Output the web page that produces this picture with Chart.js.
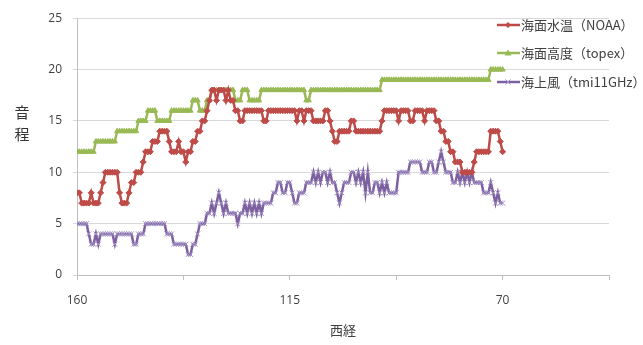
<!DOCTYPE html>
<html lang="ja">
<head>
<meta charset="utf-8">
<title>海面水温・海面高度・海上風</title>
<script src="https://cdn.jsdelivr.net/npm/chart.js@4.4.1/dist/chart.umd.min.js"></script>
<style>
  html, body { margin: 0; padding: 0; background: #fff; }
  #wrap { position: relative; width: 643px; height: 345px; }
  #yTitle {
    position: absolute; left: 12px; top: 101px; width: 20px;
    font: 15px "Noto Sans CJK JP"; line-height: 22px; color: #333; text-align: center;
  }
  #legend { position: absolute; left: 497px; top: 15px; font: 13px "Noto Sans CJK JP"; color: #404040; }
  #legend .item { position: absolute; left: 0; white-space: nowrap; height: 20px; line-height: 20px; }
  #legend svg { position: absolute; left: 0; top: 4px; }
  #legend span { position: absolute; left: 24px; top: 0; }
</style>
</head>
<body>
<div id="wrap">
  <canvas id="chart" width="643" height="345"></canvas>
  <div id="yTitle">音<br>程</div>
  <div id="legend"></div>
</div>
<script>
// longitude (west), 0.5 degree steps from 160 down to 70
const lonStart = 160;
const lonStep = 0.5;
const lonLabels = [160, 115, 70];
const lonTickMarks = [160, 137.5, 115, 92.5, 70, 47.5];

// 海面水温 (NOAA)
const sst = [
  8, 8, 7, 7, 7, 7, 8, 7, 7, 7,
  8, 9, 10, 10, 10, 10, 10, 10, 8, 7,
  7, 7, 8, 9, 9, 10, 10, 10, 11, 12,
  12, 12, 13, 13, 13, 14, 14, 14, 14, 13,
  12, 12, 12, 13, 12, 12, 11, 12, 12, 13,
  13, 14, 14, 15, 15, 16, 17, 18, 18, 17,
  18, 18, 18, 17, 18, 17, 17, 16, 16, 15,
  15, 16, 16, 16, 16, 16, 16, 16, 16, 15,
  15, 16, 16, 16, 16, 16, 16, 16, 16, 16,
  16, 16, 16, 15, 16, 16, 15, 16, 16, 16,
  15, 15, 15, 15, 15, 16, 16, 15, 14, 13,
  13, 14, 14, 14, 14, 14, 15, 15, 14, 14,
  14, 14, 14, 14, 14, 14, 14, 14, 14, 15,
  16, 16, 16, 16, 16, 16, 15, 16, 16, 16,
  16, 15, 15, 16, 16, 16, 16, 15, 16, 16,
  16, 16, 15, 15, 14, 14, 13, 13, 12, 12,
  11, 11, 11, 10, 10, 10, 10, 10, 11, 12,
  12, 12, 12, 12, 12, 14, 14, 14, 14, 13,
  12
];

// 海面高度 (topex)
const ssh = [
  12, 12, 12, 12, 12, 12, 12, 12, 13, 13,
  13, 13, 13, 13, 13, 13, 13, 14, 14, 14,
  14, 14, 14, 14, 14, 14, 15, 15, 15, 15,
  16, 16, 16, 16, 15, 15, 15, 15, 15, 15,
  16, 16, 16, 16, 16, 16, 16, 16, 16, 17,
  17, 17, 16, 16, 16, 17, 17, 18, 18, 18,
  18, 18, 18, 18, 18, 18, 18, 17, 17, 17,
  18, 18, 18, 17, 17, 17, 17, 17, 18, 18,
  18, 18, 18, 18, 18, 18, 18, 18, 18, 18,
  18, 18, 18, 18, 18, 18, 18, 17, 17, 18,
  18, 18, 18, 18, 18, 18, 18, 18, 18, 18,
  18, 18, 18, 18, 18, 18, 18, 18, 18, 18,
  18, 18, 18, 18, 18, 18, 18, 18, 18, 19,
  19, 19, 19, 19, 19, 19, 19, 19, 19, 19,
  19, 19, 19, 19, 19, 19, 19, 19, 19, 19,
  19, 19, 19, 19, 19, 19, 19, 19, 19, 19,
  19, 19, 19, 19, 19, 19, 19, 19, 19, 19,
  19, 19, 19, 19, 19, 20, 20, 20, 20, 20,
  20
];

// 海上風 (tmi11GHz)
const wind = [
  5, 5, 5, 5, 5, 4, 3, 3, 4, 3,
  4, 4, 4, 4, 4, 4, 3, 4, 4, 4,
  4, 4, 4, 4, 3, 3, 4, 4, 4, 5,
  5, 5, 5, 5, 5, 5, 5, 5, 4, 4,
  4, 3, 3, 3, 3, 3, 3, 2, 2, 3,
  3, 4, 5, 5, 5, 6, 6, 7, 6, 7,
  8, 7, 6, 7, 6, 6, 6, 6, 5, 6,
  6, 7, 6, 7, 6, 7, 6, 7, 6, 7,
  7, 7, 7, 8, 8, 9, 9, 8, 8, 9,
  9, 8, 7, 7, 8, 8, 8, 9, 9, 9,
  10, 9, 10, 9, 10, 10, 9, 10, 9, 9,
  8, 7, 8, 9, 9, 9, 10, 10, 9, 10,
  9, 10, 8, 10, 8, 8, 9, 9, 8, 9,
  8, 9, 8, 8, 8, 8, 10, 10, 10, 10,
  10, 11, 11, 11, 11, 11, 10, 10, 10, 11,
  11, 10, 10, 11, 12, 11, 10, 10, 10, 9,
  9, 10, 9, 10, 9, 10, 9, 10, 9, 9,
  9, 9, 8, 8, 8, 9, 8, 7, 8, 7,
  7
];

const lons = sst.map((_, i) => lonStart - i * lonStep);

const tickFont = { family: '"Open Sans", "Noto Sans CJK JP"', size: 12 };
const textColor = '#404040';

const series = [
  { label: '海面水温（NOAA）', data: sst, color: '#BE4B48', pointColor: '#BE4B48', style: 'rectRot', radius: 3 },
  { label: '海面高度（topex）', data: ssh, color: '#98B954', pointColor: '#98B954', style: 'triangle', radius: 3 },
  { label: '海上風（tmi11GHz）', data: wind, color: '#7D60A0', pointColor: '#A291C4', style: 'crossRot', radius: 3.5 }
];

new Chart(document.getElementById('chart'), {
  type: 'line',
  data: {
    labels: lons,
    datasets: series.map(s => ({
      label: s.label,
      data: s.data,
      borderColor: s.color,
      backgroundColor: s.pointColor,
      borderWidth: 2.5,
      pointStyle: s.style,
      pointRadius: s.radius,
      pointBorderColor: s.pointColor,
      pointBackgroundColor: s.pointColor,
      pointBorderWidth: 1,
      tension: 0
    }))
  },
  options: {
    responsive: false,
    animation: false,
    events: [],
    layout: { padding: { top: 13, right: 34, bottom: 0, left: 0 } },
    plugins: { legend: { display: false }, tooltip: { enabled: false } },
    scales: {
      x: {
        type: 'linear',
        reverse: true,
        min: 47.5,
        max: 160,
        afterBuildTicks: scale => { scale.ticks = lonTickMarks.map(v => ({ value: v })); },
        afterFit: scale => { scale.height = 70; },
        ticks: {
          autoSkip: false,
          maxRotation: 0,
          padding: 13,
          font: tickFont,
          color: textColor,
          callback: v => lonLabels.includes(v) ? String(v) : ''
        },
        grid: { drawOnChartArea: false, tickLength: 5, color: '#BFBFBF' },
        border: { color: '#BFBFBF' },
        title: {
          display: true,
          text: '西経',
          color: textColor,
          font: { family: '"Noto Sans CJK JP"', size: 13 },
          padding: { top: 0, bottom: 7 }
        }
      },
      y: {
        min: 0,
        max: 25,
        afterFit: scale => { scale.width = 77; },
        ticks: { stepSize: 5, padding: 11, font: tickFont, color: textColor },
        grid: { color: '#D9D9D9', tickLength: 4 },
        border: { color: '#BFBFBF' }
      }
    }
  }
});

// legend drawn over the right side of the plot
const legend = document.getElementById('legend');
const legendTops = [0, 28, 57];
series.forEach((s, i) => {
  const item = document.createElement('div');
  item.className = 'item';
  item.style.top = legendTops[i] + 'px';
  let marker;
  if (s.style === 'rectRot') {
    marker = `<polygon points="11,3 14,6 11,9 8,6" fill="${s.pointColor}"/>`;
  } else if (s.style === 'triangle') {
    marker = `<polygon points="11,2.5 14.5,8.5 7.5,8.5" fill="${s.pointColor}"/>`;
  } else {
    marker = `<path d="M8.5 3.5 L13.5 8.5 M13.5 3.5 L8.5 8.5" stroke="${s.pointColor}" stroke-width="1"/>`;
  }
  item.innerHTML =
    `<svg width="24" height="12"><line x1="0" y1="6" x2="23" y2="6" stroke="${s.color}" stroke-width="2.5"/>${marker}</svg>` +
    `<span>${s.label}</span>`;
  legend.appendChild(item);
});
</script>
</body>
</html>
